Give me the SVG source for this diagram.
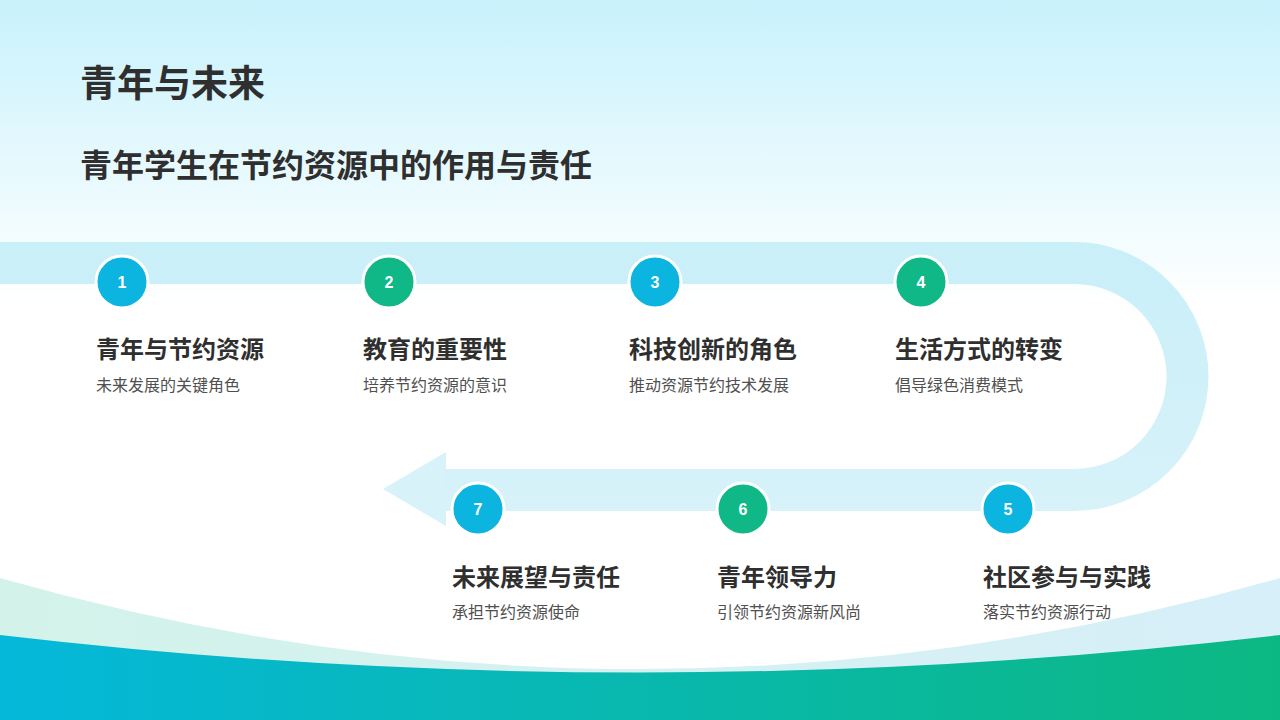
<svg xmlns="http://www.w3.org/2000/svg" width="1280" height="720" viewBox="0 0 1280 720">
<defs>
<linearGradient id="bg" x1="0" y1="0" x2="0" y2="1">
<stop offset="0" stop-color="#c8f2fc"/>
<stop offset="0.42" stop-color="#ffffff"/>
<stop offset="1" stop-color="#ffffff"/>
</linearGradient>
<linearGradient id="band" gradientUnits="userSpaceOnUse" x1="0" y1="242" x2="0" y2="526">
<stop offset="0" stop-color="#c9eff9"/>
<stop offset="1" stop-color="#d8f2f9"/>
</linearGradient>
<linearGradient id="wave" x1="0" y1="0" x2="1" y2="0">
<stop offset="0" stop-color="#05b8da"/>
<stop offset="1" stop-color="#0cb882"/>
</linearGradient>
<linearGradient id="wavelight" x1="0" y1="0" x2="1" y2="0">
<stop offset="0" stop-color="#d3f3ea"/>
<stop offset="1" stop-color="#d7eff9"/>
</linearGradient>
<style>
.t{font-family:"Noto Sans CJK SC","Noto Sans",sans-serif;fill:#2f2f2f;font-weight:700}
.h{font-size:24px}
.s{font-family:"Noto Sans CJK SC","Noto Sans",sans-serif;fill:#505050;font-size:16px}
.c{stroke:#ffffff;stroke-width:3}
.blue{fill:#0cb4e0}
.green{fill:#10b888}
.n{font-family:"Liberation Sans","Noto Sans",sans-serif;font-size:16px;font-weight:700;fill:#ffffff;text-anchor:middle}
</style>
</defs>
<rect width="1280" height="720" fill="url(#bg)"/>
<path d="M0,578 Q640,760 1280,578 L1280,720 L0,720 Z" fill="url(#wavelight)"/>
<path d="M0,635 Q640,710 1280,635 L1280,720 L0,720 Z" fill="url(#wave)"/>
<g id="title">
<text class="t" x="80" y="97" font-size="37">青年与未来</text>
<text class="t" x="80" y="177" font-size="32">青年学生在节约资源中的作用与责任</text>
</g>
<g id="connectors">
<path d="M0,263 H1074 A113.5,113.5 0 0 1 1074,490 H440" fill="none" stroke="url(#band)" stroke-width="42"/>
<polygon points="383,489 446,452 446,526" fill="#d8f2f9"/>
</g>
<g id="node1">
<circle class="c blue" cx="122" cy="282" r="26"/>
<text class="n" x="122" y="288">1</text>
<text class="t h" x="96" y="358">青年与节约资源</text>
<text class="s" x="96" y="391">未来发展的关键角色</text>
</g>
<g id="node2">
<circle class="c green" cx="389" cy="282" r="26"/>
<text class="n" x="389" y="288">2</text>
<text class="t h" x="363" y="358">教育的重要性</text>
<text class="s" x="363" y="391">培养节约资源的意识</text>
</g>
<g id="node3">
<circle class="c blue" cx="655" cy="282" r="26"/>
<text class="n" x="655" y="288">3</text>
<text class="t h" x="629" y="358">科技创新的角色</text>
<text class="s" x="629" y="391">推动资源节约技术发展</text>
</g>
<g id="node4">
<circle class="c green" cx="921" cy="282" r="26"/>
<text class="n" x="921" y="288">4</text>
<text class="t h" x="895" y="358">生活方式的转变</text>
<text class="s" x="895" y="391">倡导绿色消费模式</text>
</g>
<g id="node5">
<circle class="c blue" cx="1008" cy="509" r="26"/>
<text class="n" x="1008" y="515">5</text>
<text class="t h" x="983" y="586">社区参与与实践</text>
<text class="s" x="983" y="618">落实节约资源行动</text>
</g>
<g id="node6">
<circle class="c green" cx="743" cy="509" r="26"/>
<text class="n" x="743" y="515">6</text>
<text class="t h" x="717" y="586">青年领导力</text>
<text class="s" x="717" y="618">引领节约资源新风尚</text>
</g>
<g id="node7">
<circle class="c blue" cx="478" cy="509" r="26"/>
<text class="n" x="478" y="515">7</text>
<text class="t h" x="452" y="586">未来展望与责任</text>
<text class="s" x="452" y="618">承担节约资源使命</text>
</g>
</svg>
